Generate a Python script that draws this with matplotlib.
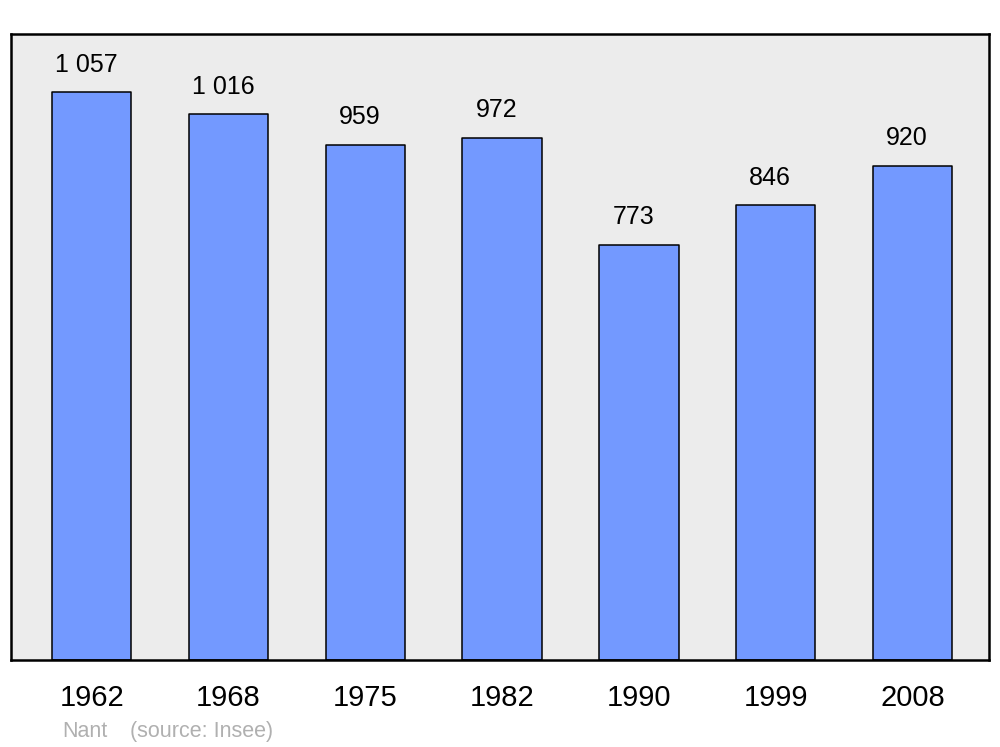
import matplotlib
matplotlib.use("Agg")
import matplotlib.pyplot as plt

years = ["1962", "1968", "1975", "1982", "1990", "1999", "2008"]
population = [1057, 1016, 959, 972, 773, 846, 920]
value_labels = ["1 057", "1 016", "959", "972", "773", "846", "920"]

plt.rcParams["font.family"] = ["Liberation Sans", "DejaVu Sans"]

fig = plt.figure(figsize=(10, 7.47), dpi=100)
ax = fig.add_axes([0.011, 0.1165, 0.978, 0.838])
ax.set_facecolor("#ececec")

x = list(range(len(years)))
bars = ax.bar(x, population, width=0.58, color="#7399ff", edgecolor="black",
              linewidth=1.1, joinstyle="round")

for xi, val, lab in zip(x, population, value_labels):
    ax.annotate(lab, (xi, val), xytext=(-4, 11), textcoords="offset points",
                ha="center", va="bottom", fontsize=18)

ax.set_xlim(-0.59, 6.56)
ax.set_ylim(0, 1165)
ax.set_xticks(x)
ax.set_xticklabels(years, fontsize=21)
ax.tick_params(axis="x", length=0, pad=17)
ax.set_yticks([])
for sp in ax.spines.values():
    sp.set_linewidth(1.8)

fig.text(0.062, 0.0134, "Nant", color="#b0b0b0", fontsize=15.5, va="baseline")
fig.text(0.130, 0.0134, "(source: Insee)", color="#b0b0b0", fontsize=15.5, va="baseline")

fig.savefig("out.png", dpi=100)
